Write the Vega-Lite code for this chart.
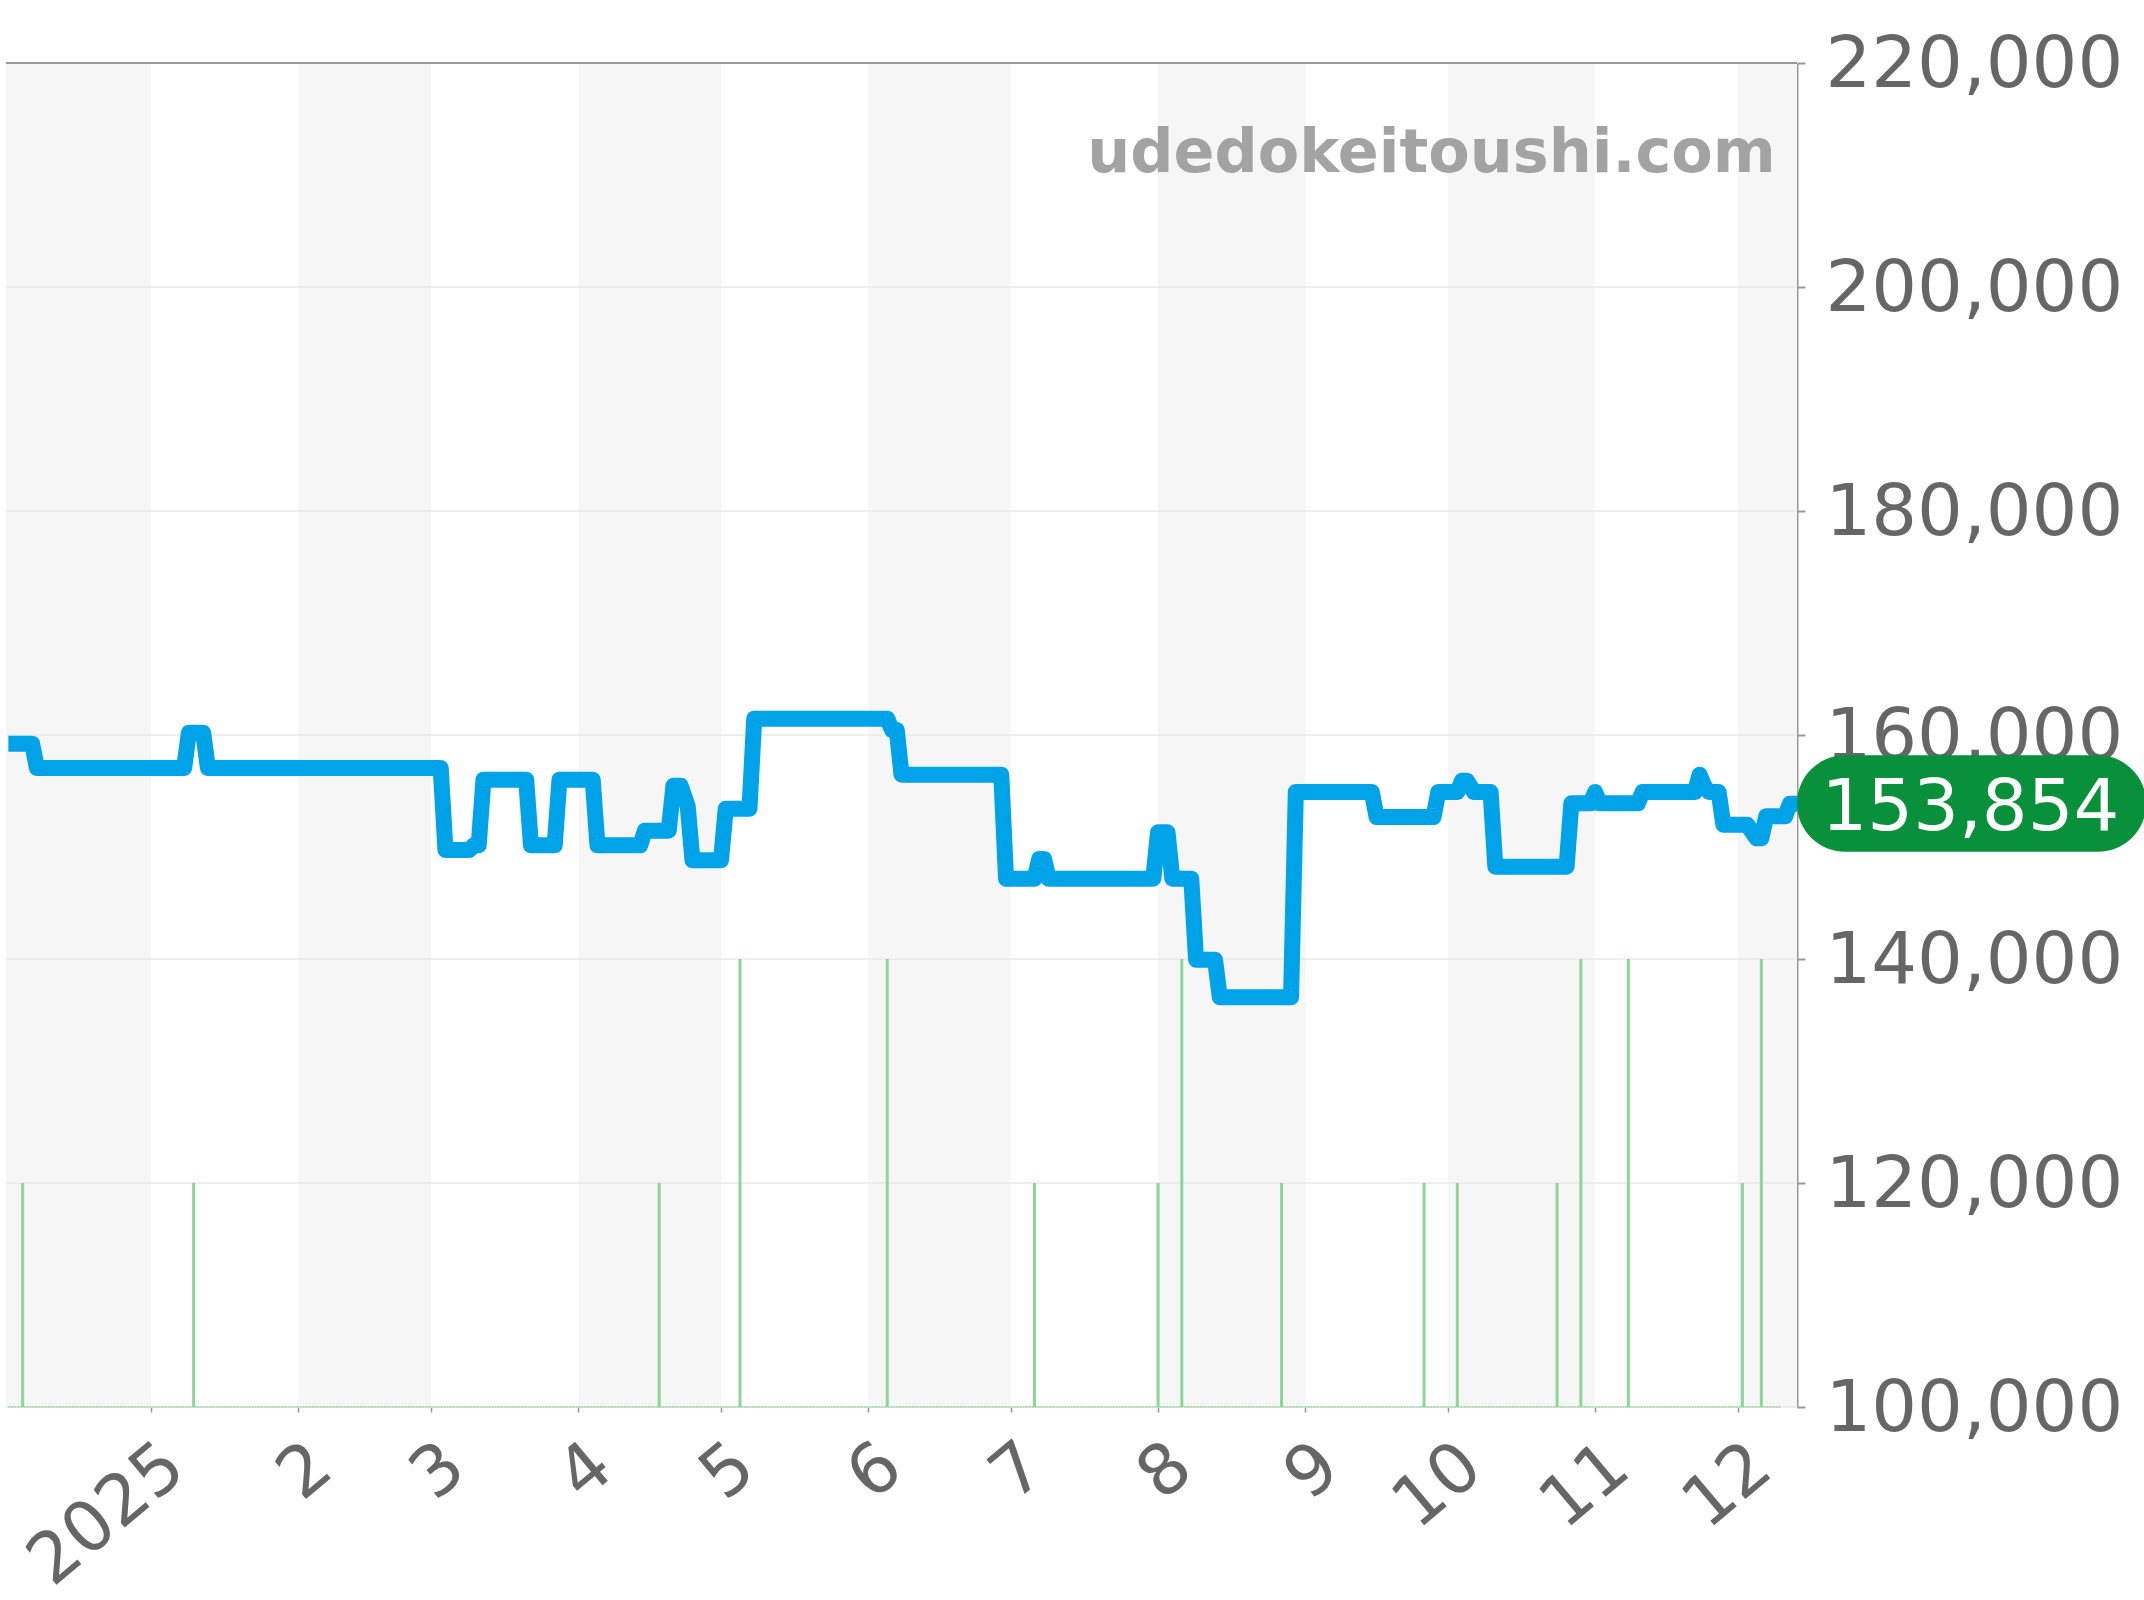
{
"$schema":"https://vega.github.io/schema/vega-lite/v6.json",
"width":1791,"height":1344,
"autosize":"none",
"padding":{"left":6,"top":63,"right":347,"bottom":193},
"background":"white",
"config":{"view":{"stroke":null},"font":"DejaVu Sans"},
"datasets":{
"bands":[
{"date":"2024-12-01T12:00:00Z","end":"2025-01-01"},
{"date":"2025-02-01","end":"2025-03-01"},
{"date":"2025-04-01","end":"2025-05-01"},
{"date":"2025-06-01","end":"2025-07-01"},
{"date":"2025-08-01","end":"2025-09-01"},
{"date":"2025-10-01","end":"2025-11-01"},
{"date":"2025-12-01","end":"2025-12-13T12:00:00Z"}],
"grid":[{"value":100000},{"value":120000},{"value":140000},{"value":160000},{"value":180000},{"value":200000}],
"volume":[
{"date":"2024-12-05","level":120000},{"date":"2025-01-10","level":120000},{"date":"2025-04-18","level":120000},
{"date":"2025-05-05","level":140000},{"date":"2025-06-05","level":140000},{"date":"2025-07-06","level":120000},
{"date":"2025-08-01","level":120000},{"date":"2025-08-06","level":140000},{"date":"2025-08-27","level":120000},
{"date":"2025-09-26","level":120000},{"date":"2025-10-03","level":120000},{"date":"2025-10-24","level":120000},
{"date":"2025-10-29","level":140000},{"date":"2025-11-08","level":140000},{"date":"2025-12-02","level":120000},
{"date":"2025-12-06","level":140000}],
"price":[
{"date":"2024-12-02","price":159226},{"date":"2024-12-07","price":159226},{"date":"2024-12-08","price":157054},
{"date":"2025-01-08","price":157054},{"date":"2025-01-09","price":160208},{"date":"2025-01-12","price":160208},
{"date":"2025-01-13","price":157054},{"date":"2025-03-03","price":157054},{"date":"2025-03-04","price":149733},
{"date":"2025-03-09","price":149733},{"date":"2025-03-10","price":150149},{"date":"2025-03-11","price":150149},
{"date":"2025-03-12","price":156012},{"date":"2025-03-21","price":156012},{"date":"2025-03-22","price":150149},
{"date":"2025-03-27","price":150149},{"date":"2025-03-28","price":156012},{"date":"2025-04-04","price":156012},
{"date":"2025-04-05","price":150149},{"date":"2025-04-14","price":150149},{"date":"2025-04-15","price":151459},
{"date":"2025-04-20","price":151459},{"date":"2025-04-21","price":155476},{"date":"2025-04-22T12:00:00Z","price":155476},
{"date":"2025-04-24","price":153631},{"date":"2025-04-25","price":148810},{"date":"2025-05-01","price":148810},
{"date":"2025-05-02","price":153423},{"date":"2025-05-07","price":153423},{"date":"2025-05-08","price":161458},
{"date":"2025-06-05","price":161458},{"date":"2025-06-06","price":160446},{"date":"2025-06-07","price":160446},
{"date":"2025-06-08","price":156459},{"date":"2025-06-29","price":156459},{"date":"2025-06-30","price":147174},
{"date":"2025-07-06","price":147174},{"date":"2025-07-07","price":148929},{"date":"2025-07-08","price":148929},
{"date":"2025-07-09","price":147174},{"date":"2025-07-31","price":147174},{"date":"2025-08-01","price":151310},
{"date":"2025-08-03","price":151310},{"date":"2025-08-04","price":147174},{"date":"2025-08-08","price":147174},
{"date":"2025-08-09","price":139942},{"date":"2025-08-13","price":139942},{"date":"2025-08-14","price":136579},
{"date":"2025-08-29","price":136579},{"date":"2025-08-30","price":154911},{"date":"2025-09-15","price":154911},
{"date":"2025-09-16","price":152679},{"date":"2025-09-28","price":152679},{"date":"2025-09-29","price":154911},
{"date":"2025-10-03","price":154911},{"date":"2025-10-04","price":155923},{"date":"2025-10-05","price":155923},
{"date":"2025-10-06T12:00:00Z","price":154911},{"date":"2025-10-10","price":154911},{"date":"2025-10-11","price":148245},
{"date":"2025-10-26","price":148245},{"date":"2025-10-27","price":153899},{"date":"2025-10-31","price":153899},
{"date":"2025-11-01","price":154911},{"date":"2025-11-02","price":153899},{"date":"2025-11-10","price":153899},
{"date":"2025-11-11","price":154911},{"date":"2025-11-22","price":154911},{"date":"2025-11-23","price":156459},
{"date":"2025-11-24","price":155417},{"date":"2025-11-25","price":154911},{"date":"2025-11-27","price":154911},
{"date":"2025-11-28","price":151995},{"date":"2025-12-03","price":151995},{"date":"2025-12-05","price":150774},
{"date":"2025-12-06","price":150774},{"date":"2025-12-07","price":152739},{"date":"2025-12-11","price":152739},
{"date":"2025-12-12","price":153854},{"date":"2025-12-14","price":153854}]
},
"layer":[
{"data":{"name":"bands"},"mark":{"type":"rect","color":"#f6f6f6","clip":true},
 "encoding":{
  "x":{"field":"date","type":"temporal","title":null,
   "scale":{"type":"utc","domain":["2024-12-01T12:00:00Z","2025-12-13T12:00:00Z"],"nice":false},
   "axis":{"orient":"bottom","grid":false,"domain":false,"ticks":true,"tickColor":"#999999","tickWidth":1.5,"tickSize":5,
    "tickCount":{"interval":"month","step":1},
    "labelExpr":"utcmonth(datum.value)==0 ? ''+utcyear(datum.value) : ''+(utcmonth(datum.value)+1)",
    "labelFont":"DejaVu Sans","labelFontSize":70,"labelColor":"#666666","labelAngle":-40,"labelAlign":"right","labelBaseline":"middle","labelPadding":45,"labelOffset":24,"labelOverlap":false,"labelFlush":false,"labelBound":false,"labelLimit":600,"title":null}},
  "x2":{"field":"end"},
  "y":{"datum":100000,"type":"quantitative","title":null,
   "scale":{"domain":[100000,220000],"nice":false,"zero":false},
   "axis":{"orient":"right","grid":false,"values":[100000,120000,140000,160000,180000,200000,220000],"labelExpr":"format(datum.value, ',')","domain":true,"domainColor":"#999999","domainWidth":2,"tickColor":"#999999","tickWidth":2,"tickSize":8,
    "labelFont":"DejaVu Sans","labelFontSize":72,"labelColor":"#666666","labelPadding":20,"labelOffset":1.5,"labelOverlap":false,"labelFlush":false,"labelBound":false,"labelLimit":600,"title":null}},
  "y2":{"datum":220000}
 }},
{"data":{"name":"grid"},"mark":{"type":"rule","color":"#e8e8e8","strokeWidth":1.5},
 "encoding":{"y":{"field":"value","type":"quantitative"}}},
{"data":{"values":[{"value":220000}]},"mark":{"type":"rule","color":"#999999","strokeWidth":2},
 "encoding":{"y":{"field":"value","type":"quantitative"}}},
{"data":{"values":[{"date":"2024-12-02","end":"2025-12-10","value":100000}]},"mark":{"type":"rule","color":"#a9dcb0","strokeWidth":2,"strokeDash":[2,1]},
 "encoding":{"x":{"field":"date","type":"temporal"},"x2":{"field":"end"},"y":{"field":"value","type":"quantitative"}}},
{"data":{"name":"volume"},"mark":{"type":"rule","color":"#8fd59a","strokeWidth":3},
 "encoding":{"x":{"field":"date","type":"temporal"},"y":{"field":"level","type":"quantitative"},"y2":{"datum":100000}}},
{"data":{"name":"price"},"mark":{"type":"line","color":"#00a2e8","strokeWidth":16,"strokeJoin":"round","strokeCap":"butt","clip":true},
 "encoding":{"x":{"field":"date","type":"temporal"},"y":{"field":"price","type":"quantitative"}}},
{"data":{"values":[{"date":"2025-12-09","value":210295,"label":"udedokeitoushi.com"}]},
 "mark":{"type":"text","font":"DejaVu Sans","fontWeight":"bold","fontSize":60.4,"color":"#a3a3a3","align":"right","baseline":"alphabetic"},
 "encoding":{"x":{"field":"date","type":"temporal"},"y":{"field":"value","type":"quantitative"},"text":{"field":"label"}}},
{"data":{"values":[{"date":"2025-12-13T12:00:00Z","end":"2026-02-25","low":149583,"high":158181}]},
 "mark":{"type":"rect","color":"#09903b","cornerRadius":48,"clip":false},
 "encoding":{"x":{"field":"date","type":"temporal"},"x2":{"field":"end"},"y":{"field":"low","type":"quantitative"},"y2":{"field":"high"}}},
{"data":{"values":[{"date":"2026-01-19","value":153854}]},
 "mark":{"type":"text","font":"DejaVu Sans","fontSize":72,"color":"#ffffff","align":"center","baseline":"middle","dy":4},
 "encoding":{"x":{"field":"date","type":"temporal"},"y":{"field":"value","type":"quantitative"},"text":{"field":"value","type":"quantitative","format":","}}}
]
}
